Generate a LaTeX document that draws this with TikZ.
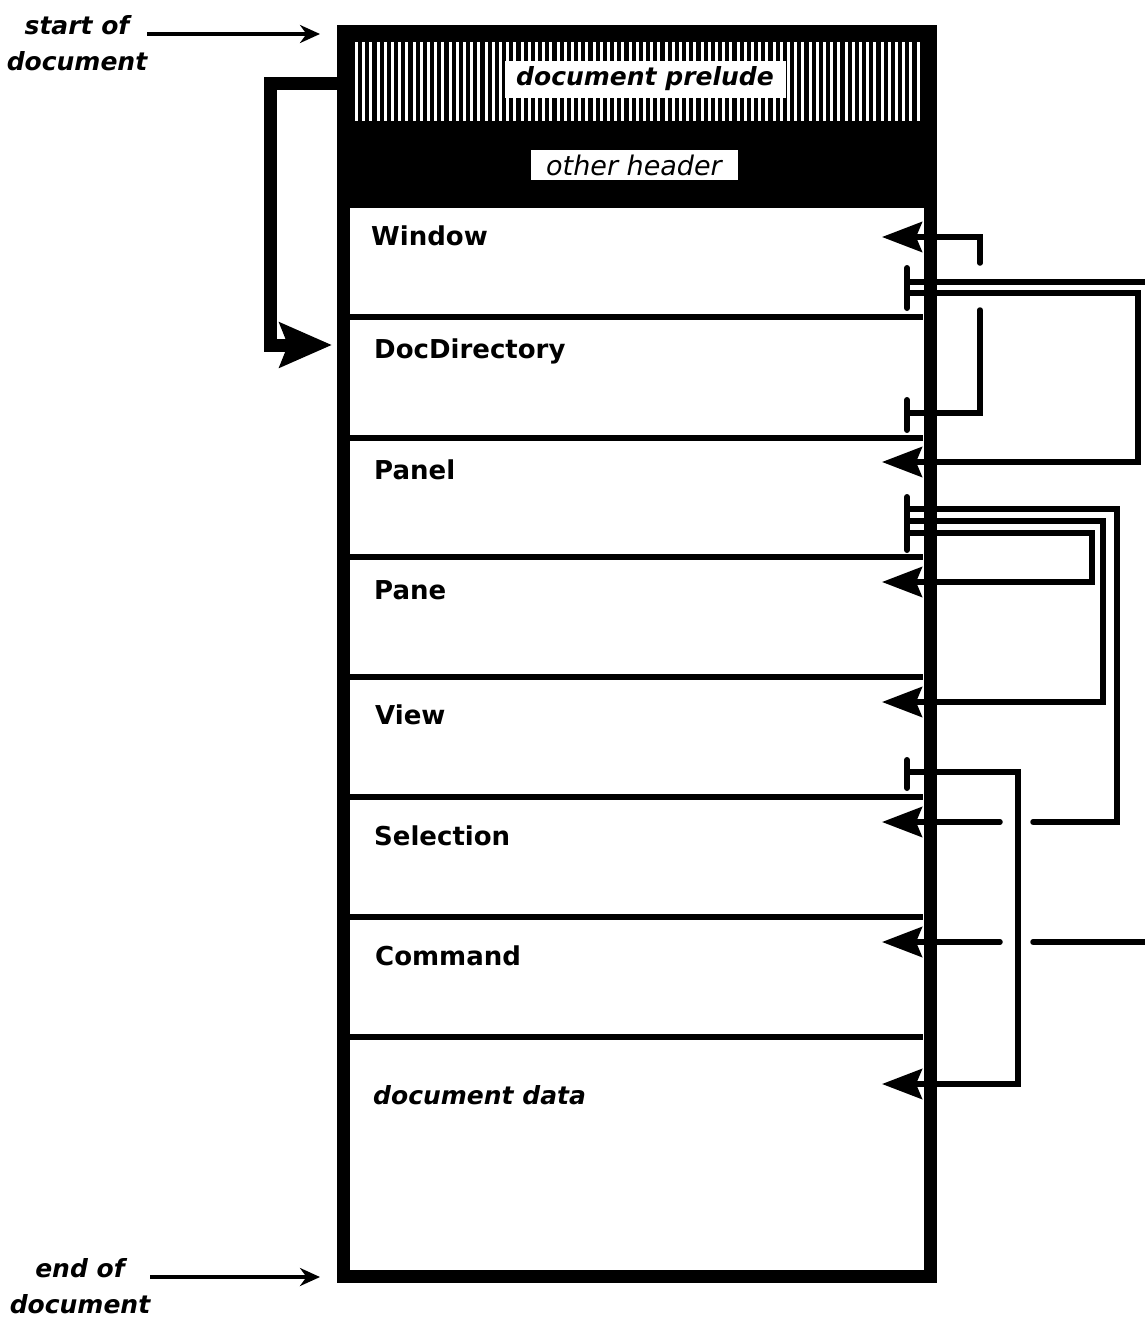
\documentclass[tikz,border=0pt]{standalone}
\usepackage{fontspec}
\setmainfont{DejaVu Sans}
\usetikzlibrary{arrows.meta}

\tikzset{
  rowlabel/.style={anchor=base west, inner sep=0pt, font=\fontsize{26}{30}\selectfont\bfseries},
  italabel/.style={inner sep=0pt, font=\fontsize{25}{30}\selectfont\bfseries\itshape},
  sidelabel/.style={align=center, inner sep=0pt, font=\fontsize{25}{36}\selectfont\bfseries\itshape},
  ptr/.style={line width=5.5pt, line cap=round},
  ptrtip/.style={ptr, -{Stealth[length=40pt, width=30pt, inset=6pt]}},
  tbar/.style={line width=6pt, line cap=round},
  rowline/.style={line width=6pt},
  eodarrow/.style={line width=3.5pt, -{Stealth[length=20pt, width=18pt]}}
}

\begin{document}
\begin{tikzpicture}[x=1pt, y=-1pt]
  \useasboundingbox (0,0) rectangle (1145,1318);
  % Header block: striped prelude over a black band
  \fill (337,25) rectangle (937,208);
  \foreach \x in {355,362.2,...,918} {
    \fill[white] (\x,42) rectangle +(3,79);
  }
  \node[italabel, fill=white, minimum width=281pt, minimum height=37pt] (prelude) at (645,79) {document prelude};
  \node[inner sep=0pt, fill=white, minimum width=207pt, minimum height=30pt,
    font=\fontsize{27}{30}\selectfont\itshape] (other) at (634,165) {other header};
  % Record boundaries
  \foreach \y in {317,438,557,677,797,917,1037} {
    \draw[rowline] (350,\y) -- (923,\y);
  }
  % Outer frame
  \draw[line width=13pt] (343.5,31.5) rectangle (930.5,1276.5);
  % Record names
  \node[rowlabel] (win) at (371,245) {Window};
  \node[rowlabel] (dir) at (374,358) {DocDirectory};
  \node[rowlabel] (panel) at (374,479) {Panel};
  \node[rowlabel] (pane) at (374,599) {Pane};
  \node[rowlabel] (view) at (375,724) {View};
  \node[rowlabel] (sel) at (374,845) {Selection};
  \node[rowlabel] (cmd) at (375,965) {Command};
  \node[italabel, anchor=base west] (data) at (373,1104) {document data};
  % Pointer ends on the right edge
  \coordinate (winIn) at (882,237);
  \coordinate (panelIn) at (882,462);
  \coordinate (paneIn) at (882,582);
  \coordinate (viewIn) at (882,702);
  \coordinate (selIn) at (882,822);
  \coordinate (cmdIn) at (882,942);
  \coordinate (dataIn) at (882,1084);
  \coordinate (winOutA) at (907,282);
  \coordinate (winOutB) at (907,293);
  \coordinate (dirOut) at (907,413);
  \coordinate (panelOutA) at (907,509);
  \coordinate (panelOutB) at (907,521);
  \coordinate (panelOutC) at (907,533);
  \coordinate (viewOut) at (907,772);
  \coordinate (offTop) at (1145,282);
  \coordinate (offCmd) at (1145,942);
  % T bars at pointer origins
  \foreach \a/\b in {268/308, 400/430, 497/550, 760/788} {
    \draw[tbar] (907,\a) -- (907,\b);
  }
  % Pointers (gaps where lines cross)
  \draw[ptr] (dirOut) -| (980,310);
  \draw[ptrtip] (980,263) |- (winIn);
  \draw[ptr] (winOutA) -- (offTop);
  \draw[ptrtip] (winOutB) -| (1138,462) -- (panelIn);
  \draw[ptr] (panelOutA) -| (1117,822) -- (1033,822);
  \draw[ptrtip] (1000,822) -- (selIn);
  \draw[ptrtip] (panelOutB) -| (1103,702) -- (viewIn);
  \draw[ptrtip] (panelOutC) -| (1092,582) -- (paneIn);
  \draw[ptrtip] (viewOut) -| (1018,1084) -- (dataIn);
  \draw[ptr] (offCmd) -- (1033,942);
  \draw[ptrtip] (1000,942) -- (cmdIn);
  % Prelude points to the directory
  \coordinate (dirLeft) at (332,345);
  \draw[line width=13pt, -{Stealth[length=52pt, width=44pt, inset=8pt]}] (343,83) -| (270,345) -- (dirLeft);
  % Start and end markers
  \node[sidelabel] (sod) at (77,43) {start of\\document};
  \coordinate (sodTip) at (320,34);
  \draw[eodarrow] (sod.east |- sodTip) -- (sodTip);
  \node[sidelabel] (eod) at (80,1286) {end of\\document};
  \coordinate (eodTip) at (320,1277);
  \draw[eodarrow] (eod.east |- eodTip) -- (eodTip);
\end{tikzpicture}
\end{document}
